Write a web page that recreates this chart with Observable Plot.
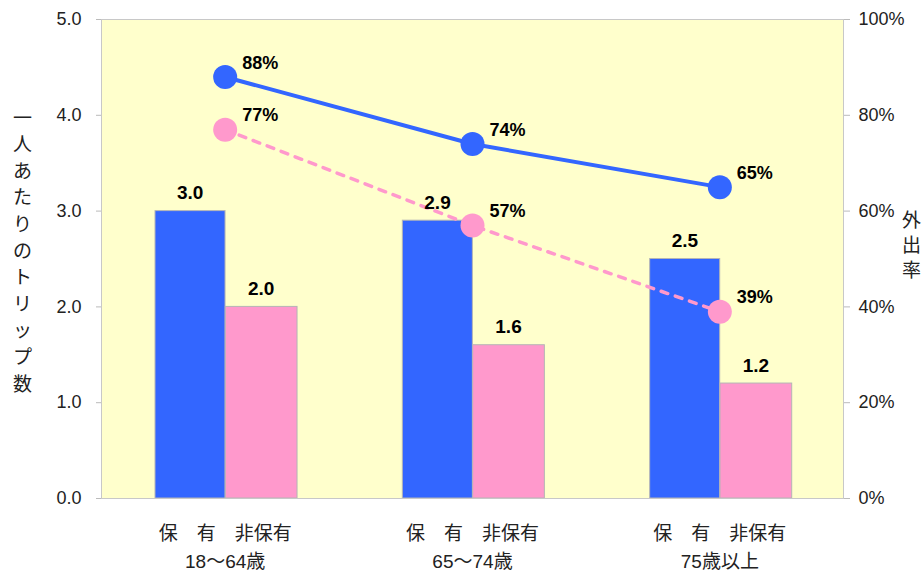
<!DOCTYPE html>
<html>
<head>
<meta charset="utf-8">
<script src="https://cdn.jsdelivr.net/npm/d3@7"></script>
<script src="https://cdn.jsdelivr.net/npm/@observablehq/plot@0.6"></script>
<style>
  html, body { margin: 0; padding: 0; background: #fff; }
</style>
</head>
<body>
<div id="chart"></div>
<script>
// ---- data ----
const groups = ["18～64歳", "65～74歳", "75歳以上"];
const subLabel = "保　有　非保有";
const ownerTrips = [3.0, 2.9, 2.5];
const nonOwnerTrips = [2.0, 1.6, 1.2];
const ownerRate = [88, 74, 65];
const nonOwnerRate = [77, 57, 39];
const leftTicks = [0, 1, 2, 3, 4, 5];
const rightTickLabels = ["0%", "20%", "40%", "60%", "80%", "100%"];
const leftTitle = "一人あたりのトリップ数";
const rightTitle = "外出率";

const blue = "#3366FF";
const pink = "#FF99CC";

const owner = groups.map((g, i) => ({group: g, trips: ownerTrips[i], rate: ownerRate[i]}));
const nonOwner = groups.map((g, i) => ({group: g, trips: nonOwnerTrips[i], rate: nonOwnerRate[i]}));
const rateY = d => d.rate / 20; // 100% maps to 5.0 on the shared y scale

const font = "'Liberation Sans', Arial, 'Noto Sans CJK JP', sans-serif";

const chart = Plot.plot({
  width: 924,
  height: 571,
  marginTop: 19,
  marginBottom: 73,
  marginLeft: 101,
  marginRight: 81,
  style: {fontFamily: font, background: "#fff", color: "#222", overflow: "visible"},
  x: {type: "band", domain: groups, padding: 0, round: false},
  y: {domain: [0, 5]},
  marks: [
    Plot.frame({fill: "#FFFFCC", stroke: "#c8c8c8"}),
    Plot.axisY({anchor: "left", ticks: leftTicks, tickFormat: d3.format(".1f"), tickSize: 5, tickPadding: 15, fontSize: 18, stroke: "#bbb", color: "#222", label: null}),
    Plot.axisY({anchor: "right", ticks: leftTicks, tickFormat: (d, i) => rightTickLabels[i], tickSize: 6, tickPadding: 9, fontSize: 18, stroke: "#bbb", label: null}),
    Plot.axisX({tickSize: 0, tickPadding: 22, fontSize: 19, lineHeight: 1.47, tickFormat: g => subLabel + "\n" + g, label: null}),
    Plot.barY(owner, {x: "group", y: "trips", fill: blue, stroke: "#b5b5b5", strokeWidth: 1, insetLeft: 54, insetRight: 123.3}),
    Plot.barY(nonOwner, {x: "group", y: "trips", fill: pink, stroke: "#b5b5b5", strokeWidth: 1, insetLeft: 124.3, insetRight: 51.3}),
    Plot.ruleY([0], {stroke: "#c8c8c8"}),
    Plot.line(owner, {x: "group", y: rateY, stroke: blue, strokeWidth: 4}),
    Plot.line(nonOwner, {x: "group", y: rateY, stroke: pink, strokeWidth: 3.5, strokeDasharray: "7,8"}),
    Plot.dot(owner, {x: "group", y: rateY, r: 12, fill: blue}),
    Plot.dot(nonOwner, {x: "group", y: rateY, r: 12, fill: pink}),
    Plot.text(owner, {x: "group", y: "trips", text: d => d.trips.toFixed(1), dx: -35, dy: -18, fontSize: 19, fontWeight: "bold", fill: "#000", letterSpacing: 1}),
    Plot.text(nonOwner, {x: "group", y: "trips", text: d => d.trips.toFixed(1), dx: 36, dy: -18, fontSize: 19, fontWeight: "bold", fill: "#000", letterSpacing: 1}),
    Plot.text(owner, {x: "group", y: rateY, text: d => d.rate + "%", dx: 35, dy: -14, fontSize: 18, fontWeight: "bold", fill: "#000", letterSpacing: 1}),
    Plot.text(nonOwner, {x: "group", y: rateY, text: d => d.rate + "%", dx: 35, dy: -14, fontSize: 18, fontWeight: "bold", fill: "#000", letterSpacing: 1}),
    Plot.text([leftTitle], {text: d => Array.from(d).join("\n"), frameAnchor: "left", textAnchor: "middle", dx: -79, dy: -10, fontSize: 19, lineHeight: 1.4, fill: "#222", lineAnchor: "middle"}),
    Plot.text([rightTitle], {text: d => Array.from(d).join("\n"), frameAnchor: "right", textAnchor: "middle", dx: 68, dy: -15, fontSize: 19, lineHeight: 1.3, fill: "#222", lineAnchor: "middle"})
  ]
});
document.getElementById("chart").appendChild(chart);
</script>
</body>
</html>
